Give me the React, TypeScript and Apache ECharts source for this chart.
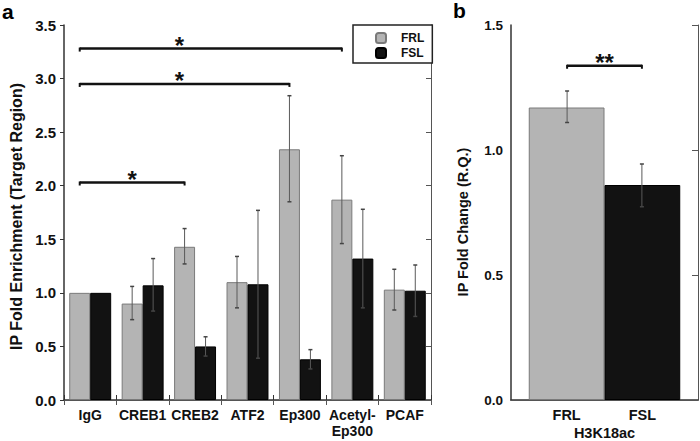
import React, { useEffect, useRef } from "react";
import * as echarts from "echarts";

const FONT = "'Liberation Sans', Arial, Helvetica, sans-serif";

// Panel a
const categories = ["IgG", "CREB1", "CREB2", "ATF2", "Ep300", "Acetyl-\nEp300", "PCAF"];
const frlValues = [1.0, 0.9, 1.43, 1.1, 2.34, 1.87, 1.03];
const fslValues = [1.0, 1.07, 0.5, 1.08, 0.38, 1.32, 1.02];
const frlErrLow = [null, 0.75, 1.27, 0.86, 1.85, 1.46, 0.84];
const frlErrHigh = [null, 1.06, 1.6, 1.34, 2.84, 2.28, 1.22];
const fslErrLow = [null, 0.83, 0.41, 0.39, 0.29, 0.86, 0.78];
const fslErrHigh = [null, 1.32, 0.59, 1.77, 0.47, 1.78, 1.26];
// significance brackets: from FRL of category, to FRL of category
const sigFrom = [0, 0, 0];
const sigTo = [5, 4, 2];
const sigY = [3.28, 2.95, 2.03];
const sigStarAt = [1.7, 1.7, 0.8];
const sigLabels = ["*", "*", "*"];

// Panel b
const h3Category = ["H3K18ac"];
const h3Frl = [1.17];
const h3Fsl = [0.86];
const h3FrlErr = [1.11, 1.236];
const h3FslErr = [0.773, 0.944];
const h3SigY = 1.337;
const h3SigLabel = "**";

const FRL_COLOR = "#b4b4b4";
const FSL_COLOR = "#121212";

function errRender(off: number) {
  return (params: any, api: any) => {
    const i = api.value(0);
    const lo = api.coord([i, api.value(1)]);
    const hi = api.coord([i, api.value(2)]);
    const band = api.size([1, 0])[0];
    const x = lo[0] + off * band;
    const st = { stroke: "#5a5a5a", lineWidth: 1 };
    return {
      type: "group",
      children: [
        { type: "line", shape: { x1: x, y1: lo[1], x2: x, y2: hi[1] }, style: st },
        { type: "line", shape: { x1: x - 2, y1: hi[1], x2: x + 2, y2: hi[1] }, style: { stroke: "#444", lineWidth: 1.5 } },
        { type: "line", shape: { x1: x - 2, y1: lo[1], x2: x + 2, y2: lo[1] }, style: { stroke: "#444", lineWidth: 1.5 } },
      ],
    };
  };
}

function bracketChildren(x1: number, x2: number, y: number, sx: number, label: string) {
  const st = { stroke: "#111", lineWidth: 2.5 };
  return [
    { type: "line", shape: { x1, y1: y, x2, y2: y }, style: st },
    { type: "line", shape: { x1, y1: y - 1, x2: x1, y2: y + 3 }, style: { stroke: "#111", lineWidth: 2 } },
    { type: "line", shape: { x1: x2, y1: y - 1, x2, y2: y + 3 }, style: { stroke: "#111", lineWidth: 2 } },
    {
      type: "text",
      style: {
        text: label,
        x: sx,
        y: y - 3,
        align: "center",
        verticalAlign: "middle",
        fontSize: 24,
        fontWeight: "bold",
        fontFamily: FONT,
        fill: "#111",
      },
    },
  ];
}

export default function App() {
  const ref = useRef<HTMLDivElement>(null);
  useEffect(() => {
    if (!ref.current) return;
    const chart = echarts.init(ref.current, null, { renderer: "svg" });
    const labelStyle = { fontWeight: "bold", color: "#111", fontFamily: FONT };
    const errA = (lo: any[], hi: any[]) =>
      categories.map((_, i) => [i, lo[i], hi[i]]).filter((d) => d[1] != null);
    const option: any = {
      animation: false,
      backgroundColor: "#fff",
      textStyle: { fontFamily: FONT },
      grid: [
        { left: 56, top: 25, width: 375, height: 375 },
        { left: 511, top: 25, width: 187, height: 375 },
      ],
      legend: {
        data: ["FRL", "FSL"],
        left: 353,
        top: 25,
        orient: "vertical",
        itemWidth: 10,
        itemHeight: 10,
        itemGap: 3,
        padding: [7, 8, 4, 22],
        borderColor: "#222",
        borderWidth: 1.5,
        backgroundColor: "#fff",
        selectedMode: false,
        textStyle: { fontWeight: "bold", fontSize: 12, color: "#111", fontFamily: FONT, padding: [0, 0, 0, 10] },
      },
      xAxis: [
        {
          gridIndex: 0,
          type: "category",
          data: categories,
          position: "bottom",
          axisLine: { lineStyle: { color: "#333", width: 1.5 } },
          axisTick: { show: true, inside: true, length: 5, lineStyle: { color: "#333" } },
          axisLabel: { ...labelStyle, fontSize: 14, interval: 0, margin: 7, lineHeight: 16 },
        },
        {
          gridIndex: 0,
          type: "category",
          data: categories,
          position: "top",
          axisLine: { lineStyle: { color: "#555", width: 1 } },
          axisTick: { show: true, inside: true, length: 5, lineStyle: { color: "#555" } },
          axisLabel: { show: false },
        },
        {
          gridIndex: 1,
          type: "category",
          data: h3Category,
          position: "bottom",
          axisLine: { lineStyle: { color: "#333", width: 1.5 } },
          axisTick: { show: false },
          axisLabel: { ...labelStyle, fontSize: 14.5, margin: 25 },
        },
        {
          gridIndex: 1,
          type: "category",
          data: h3Category,
          position: "top",
          axisLine: { lineStyle: { color: "#555", width: 1 } },
          axisTick: { show: false },
          axisLabel: { show: false },
        },
      ],
      yAxis: [
        {
          gridIndex: 0,
          type: "value",
          min: 0,
          max: 3.5,
          interval: 0.5,
          position: "left",
          axisLine: { show: true, lineStyle: { color: "#333", width: 1.5 } },
          axisTick: { show: true, length: 4, lineStyle: { color: "#333" } },
          axisLabel: { ...labelStyle, fontSize: 15, margin: 8, formatter: (v: number) => v.toFixed(1) },
          splitLine: { show: false },
          name: "IP Fold Enrichment (Target Region)",
          nameLocation: "middle",
          nameGap: 40,
          nameTextStyle: { fontWeight: "bold", fontSize: 16, color: "#111", fontFamily: FONT, padding: [0, 8, 0, 0] },
        },
        {
          gridIndex: 0,
          type: "value",
          min: 0,
          max: 3.5,
          interval: 0.5,
          position: "right",
          axisLine: { show: true, lineStyle: { color: "#555", width: 1 } },
          axisTick: { show: true, inside: true, length: 5, lineStyle: { color: "#555" } },
          axisLabel: { show: false },
          splitLine: { show: false },
        },
        {
          gridIndex: 1,
          type: "value",
          min: 0,
          max: 1.5,
          interval: 0.5,
          position: "left",
          axisLine: { show: true, lineStyle: { color: "#333", width: 1.5 } },
          axisTick: { show: false },
          axisLabel: { ...labelStyle, fontSize: 13.5, margin: 8, formatter: (v: number) => v.toFixed(1) },
          splitLine: { show: false },
          name: "IP Fold Change (R.Q.)",
          nameLocation: "middle",
          nameGap: 41,
          nameTextStyle: { fontWeight: "bold", fontSize: 14.5, color: "#111", fontFamily: FONT, padding: [0, 19, 0, 0] },
        },
        {
          gridIndex: 1,
          type: "value",
          min: 0,
          max: 1.5,
          interval: 0.5,
          position: "right",
          axisLine: { show: true, lineStyle: { color: "#555", width: 1 } },
          axisTick: { show: true, inside: true, length: 6, lineStyle: { color: "#555" } },
          axisLabel: { show: false },
          splitLine: { show: false },
        },
      ],
      series: [
        {
          name: "FRL",
          type: "bar",
          xAxisIndex: 0,
          yAxisIndex: 0,
          data: frlValues,
          barGap: "0%",
          barCategoryGap: "20%",
          itemStyle: { color: FRL_COLOR, borderColor: "#7a7a7a", borderWidth: 1 },
        },
        {
          name: "FSL",
          type: "bar",
          xAxisIndex: 0,
          yAxisIndex: 0,
          data: fslValues,
          barGap: "0%",
          barCategoryGap: "20%",
          itemStyle: { color: FSL_COLOR, borderColor: "#000", borderWidth: 1 },
        },
        {
          type: "custom",
          xAxisIndex: 0,
          yAxisIndex: 0,
          z: 5,
          data: errA(frlErrLow, frlErrHigh),
          encode: { x: 0, y: [1, 2] },
          renderItem: errRender(-0.2),
        },
        {
          type: "custom",
          xAxisIndex: 0,
          yAxisIndex: 0,
          z: 5,
          data: errA(fslErrLow, fslErrHigh),
          encode: { x: 0, y: [1, 2] },
          renderItem: errRender(0.2),
        },
        {
          type: "custom",
          xAxisIndex: 0,
          yAxisIndex: 0,
          z: 6,
          data: sigFrom.map((f, i) => [f, sigTo[i], sigY[i], sigStarAt[i]]),
          encode: { x: [0, 1], y: 2 },
          renderItem: (params: any, api: any) => {
            const band = api.size([1, 0])[0];
            const y = api.coord([0, api.value(2)])[1];
            const x1 = api.coord([api.value(0), 0])[0] - 0.2 * band;
            const x2 = api.coord([api.value(1), 0])[0] - 0.2 * band;
            const sx = api.coord([0, 0])[0] + api.value(3) * band;
            return { type: "group", children: bracketChildren(x1, x2, y, sx, sigLabels[params.dataIndex]) };
          },
        },
        {
          name: "FRL",
          type: "bar",
          xAxisIndex: 2,
          yAxisIndex: 2,
          data: h3Frl,
          barGap: "0%",
          barCategoryGap: "19%",
          itemStyle: { color: FRL_COLOR, borderColor: "#7a7a7a", borderWidth: 1 },
          label: { show: true, position: "bottom", distance: 7, formatter: "{a}", ...labelStyle, fontSize: 14.5 },
        },
        {
          name: "FSL",
          type: "bar",
          xAxisIndex: 2,
          yAxisIndex: 2,
          data: h3Fsl,
          barGap: "0%",
          barCategoryGap: "19%",
          itemStyle: { color: FSL_COLOR, borderColor: "#000", borderWidth: 1 },
          label: { show: true, position: "bottom", distance: 7, formatter: "{a}", ...labelStyle, fontSize: 14.5 },
        },
        {
          type: "custom",
          xAxisIndex: 2,
          yAxisIndex: 2,
          z: 5,
          data: [[0, h3FrlErr[0], h3FrlErr[1]]],
          encode: { x: 0, y: [1, 2] },
          renderItem: errRender(-0.2),
        },
        {
          type: "custom",
          xAxisIndex: 2,
          yAxisIndex: 2,
          z: 5,
          data: [[0, h3FslErr[0], h3FslErr[1]]],
          encode: { x: 0, y: [1, 2] },
          renderItem: errRender(0.2),
        },
        {
          type: "custom",
          xAxisIndex: 2,
          yAxisIndex: 2,
          z: 6,
          data: [[0, h3SigY]],
          encode: { x: 0, y: 1 },
          renderItem: (params: any, api: any) => {
            const band = api.size([1, 0])[0];
            const p = api.coord([api.value(0), api.value(1)]);
            return {
              type: "group",
              children: bracketChildren(p[0] - 0.2 * band, p[0] + 0.2 * band, p[1], p[0], h3SigLabel),
            };
          },
        },
      ],
      graphic: [
        { type: "text", left: 2, top: 1, style: { text: "a", fontSize: 21, fontWeight: "bold", fontFamily: FONT, fill: "#000" } },
        { type: "text", left: 453, top: 0, style: { text: "b", fontSize: 21, fontWeight: "bold", fontFamily: FONT, fill: "#000" } },
      ],
    };
    chart.setOption(option);
    return () => chart.dispose();
  }, []);
  return <div ref={ref} style={{ position: "fixed", left: 0, top: 0, width: 700, height: 441 }} />;
}
